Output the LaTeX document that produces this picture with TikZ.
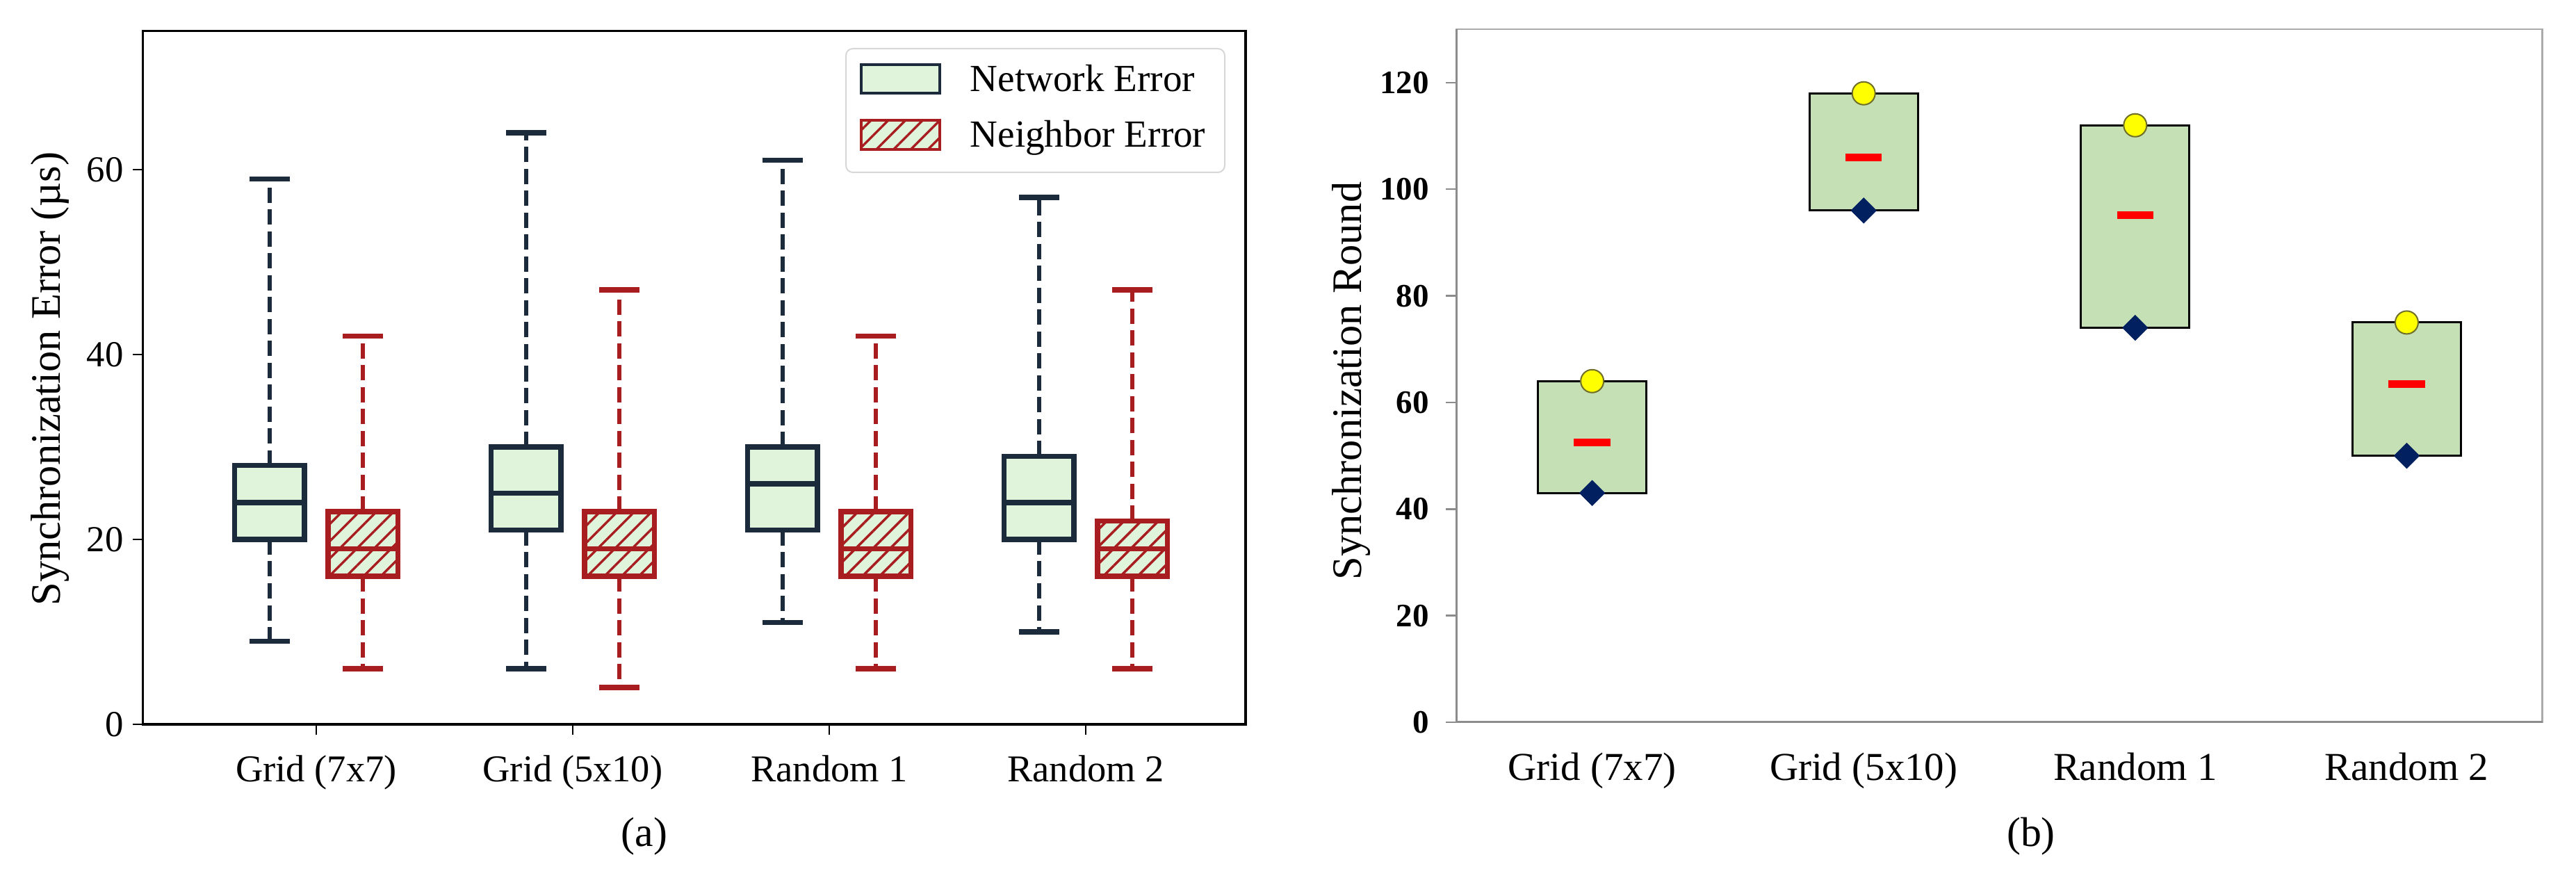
\documentclass[tikz,border=0pt]{standalone}
\usepackage{fontspec}
\setmainfont{Liberation Serif}
\usepackage{tikz}
\usetikzlibrary{shapes.geometric, patterns.meta}

\definecolor{netcol}{RGB}{28,43,60}
\definecolor{nbrcol}{RGB}{168,30,32}
\definecolor{boxfill}{RGB}{224,243,219}
\definecolor{legedge}{RGB}{215,215,215}
\definecolor{roundfill}{RGB}{197,224,180}
\definecolor{maxcol}{RGB}{255,255,0}
\definecolor{maxedge}{RGB}{110,110,40}
\definecolor{mincol}{RGB}{0,32,96}
\definecolor{meancol}{RGB}{255,0,0}
\definecolor{axgray}{RGB}{140,140,140}
\definecolor{axlight}{RGB}{170,170,170}

% x, series, low, q1, median, q3, high
\newcommand{\errbox}[7]{%
  \draw[#2, whisker] (#1,#4) -- (#1,#3) (#1,#6) -- (#1,#7);
  \draw[#2, whiskerend] (#1-0.079,#3) -- (#1+0.079,#3) (#1-0.079,#7) -- (#1+0.079,#7);
  \draw[#2, #2 box] (#1-0.136,#4) rectangle (#1+0.136,#6);
  \draw[#2, whiskerend] (#1-0.136,#5) -- (#1+0.136,#5);}

\begin{document}
\begin{tikzpicture}[
  net/.style={draw=netcol},
  nbr/.style={draw=nbrcol},
  whisker/.style={line width=0.06cm, dash pattern=on 0.22cm off 0.095cm},
  whiskerend/.style={line width=0.075cm},
  net box/.style={line width=0.075cm, fill=boxfill},
  nbr box/.style={line width=0.075cm, preaction={fill=boxfill},
    pattern={Lines[angle=45, distance=0.175cm, line width=0.035cm]}, pattern color=nbrcol},
  tickline/.style={line width=0.025cm},
  ytick/.style={left, font=\fontsize{15}{18}\selectfont},
  xtick/.style={anchor=base, yshift=-0.83cm, font=\fontsize{15.5}{18}\selectfont},
  ylab/.style={rotate=90, anchor=base, font=\fontsize{17.2}{20}\selectfont},
  legtext/.style={anchor=base west, inner sep=0, font=\fontsize{15.7}{18}\selectfont},
  caption/.style={anchor=base, font=\fontsize{17}{20}\selectfont},
  rbox/.style={draw=black, line width=0.03cm, fill=roundfill},
  meanbar/.style={draw=meancol, line width=0.11cm},
  maxdot/.style={circle, draw=maxedge, line width=0.02cm, fill=maxcol, minimum size=0.33cm, inner sep=0},
  mindia/.style={diamond, fill=mincol, minimum size=0.38cm, inner sep=0},
  rtickline/.style={axgray, line width=0.025cm},
  rytick/.style={left, xshift=-0.11cm, text=black, font=\fontsize{13.4}{16}\selectfont\bfseries},
  rxtick/.style={anchor=base, yshift=-0.84cm, font=\fontsize{16.2}{19}\selectfont}
]
  \useasboundingbox (0,0) rectangle (37.06,12.53);

  % (a) synchronization error
  \begin{scope}[xshift=0.86cm, yshift=2.11cm, x=3.69cm, y=0.133cm]
    \errbox{0.818}{net}{9}{20}{24}{28}{59}
    \errbox{1.182}{nbr}{6}{16}{19}{23}{42}
    \errbox{1.818}{net}{6}{21}{25}{30}{64}
    \errbox{2.182}{nbr}{4}{16}{19}{23}{47}
    \errbox{2.818}{net}{11}{21}{26}{30}{61}
    \errbox{3.182}{nbr}{6}{16}{19}{23}{42}
    \errbox{3.818}{net}{10}{20}{24}{29}{57}
    \errbox{4.182}{nbr}{6}{16}{19}{22}{47}

    \draw[line width=0.035cm] (0.324,0) rectangle (4.623,75);
    \draw[tickline] (0.324,0) -- ++(-0.15cm,0) node[ytick] (ya0) {0};
    \draw[tickline] (0.324,20) -- ++(-0.15cm,0) node[ytick] (ya20) {20};
    \draw[tickline] (0.324,40) -- ++(-0.15cm,0) node[ytick] (ya40) {40};
    \draw[tickline] (0.324,60) -- ++(-0.15cm,0) node[ytick] (ya60) {60};
    \draw[tickline] (1,0) -- ++(0,-0.15cm);
    \draw[tickline] (2,0) -- ++(0,-0.15cm);
    \draw[tickline] (3,0) -- ++(0,-0.15cm);
    \draw[tickline] (4,0) -- ++(0,-0.15cm);
    \node[xtick] (xa1) at (1,0) {Grid (7x7)};
    \node[xtick] (xa2) at (2,0) {Grid (5x10)};
    \node[xtick] (xa3) at (3,0) {Random 1};
    \node[xtick] (xa4) at (4,0) {Random 2};
  \end{scope}
  \node[ylab] (yla) at (0.86,7.08) {Synchronization Error (µs)};
  \node[caption] (capa) at (9.27,0.355) {(a)};

  \draw[legedge, line width=0.02cm, rounded corners=0.1cm, fill=white] (12.17,10.05) rectangle (17.62,11.83);
  \draw[net, net box, line width=0.045cm] (12.39,11.19) rectangle (13.52,11.60);
  \draw[nbr, nbr box, line width=0.045cm] (12.39,10.38) rectangle (13.52,10.80);
  \node[legtext] (lgnet) at (13.95,11.21) {Network Error};
  \node[legtext] (lgnbr) at (13.95,10.41) {Neighbor Error};

  % (b) synchronization round
  \begin{scope}[xshift=19.0cm, yshift=2.14cm, x=3.906cm, y=0.07667cm]
    \draw[axlight, line width=0.025cm] (0.5,0) rectangle (4.5,130);
    \draw[axgray, line width=0.03cm] (0.5,130) -- (0.5,0) -- (4.5,0);
    \draw[rtickline] (0.5,0) -- ++(-0.155cm,0) node[rytick] (yb0) {0};
    \draw[rtickline] (0.5,20) -- ++(-0.155cm,0) node[rytick] (yb20) {20};
    \draw[rtickline] (0.5,40) -- ++(-0.155cm,0) node[rytick] (yb40) {40};
    \draw[rtickline] (0.5,60) -- ++(-0.155cm,0) node[rytick] (yb60) {60};
    \draw[rtickline] (0.5,80) -- ++(-0.155cm,0) node[rytick] (yb80) {80};
    \draw[rtickline] (0.5,100) -- ++(-0.155cm,0) node[rytick] (yb100) {100};
    \draw[rtickline] (0.5,120) -- ++(-0.155cm,0) node[rytick] (yb120) {120};

    \draw[rbox] (0.8,43) rectangle (1.2,64);
    \draw[rbox] (1.8,96) rectangle (2.2,118);
    \draw[rbox] (2.8,74) rectangle (3.2,112);
    \draw[rbox] (3.8,50) rectangle (4.2,75);
    \draw[meanbar] (0.933,52.5) -- (1.067,52.5);
    \draw[meanbar] (1.933,106) -- (2.067,106);
    \draw[meanbar] (2.933,95.2) -- (3.067,95.2);
    \draw[meanbar] (3.933,63.5) -- (4.067,63.5);
    \node[maxdot] (mx1) at (1,64) {};
    \node[maxdot] (mx2) at (2,118) {};
    \node[maxdot] (mx3) at (3,112) {};
    \node[maxdot] (mx4) at (4,75) {};
    \node[mindia] (mn1) at (1,43) {};
    \node[mindia] (mn2) at (2,96) {};
    \node[mindia] (mn3) at (3,74) {};
    \node[mindia] (mn4) at (4,50) {};

    \node[rxtick] (xb1) at (1,0) {Grid (7x7)};
    \node[rxtick] (xb2) at (2,0) {Grid (5x10)};
    \node[rxtick] (xb3) at (3,0) {Random 1};
    \node[rxtick] (xb4) at (4,0) {Random 2};
  \end{scope}
  \node[ylab] (ylb) at (19.58,7.05) {Synchronization Round};
  \node[caption] (capb) at (29.22,0.355) {(b)};
\end{tikzpicture}
\end{document}
